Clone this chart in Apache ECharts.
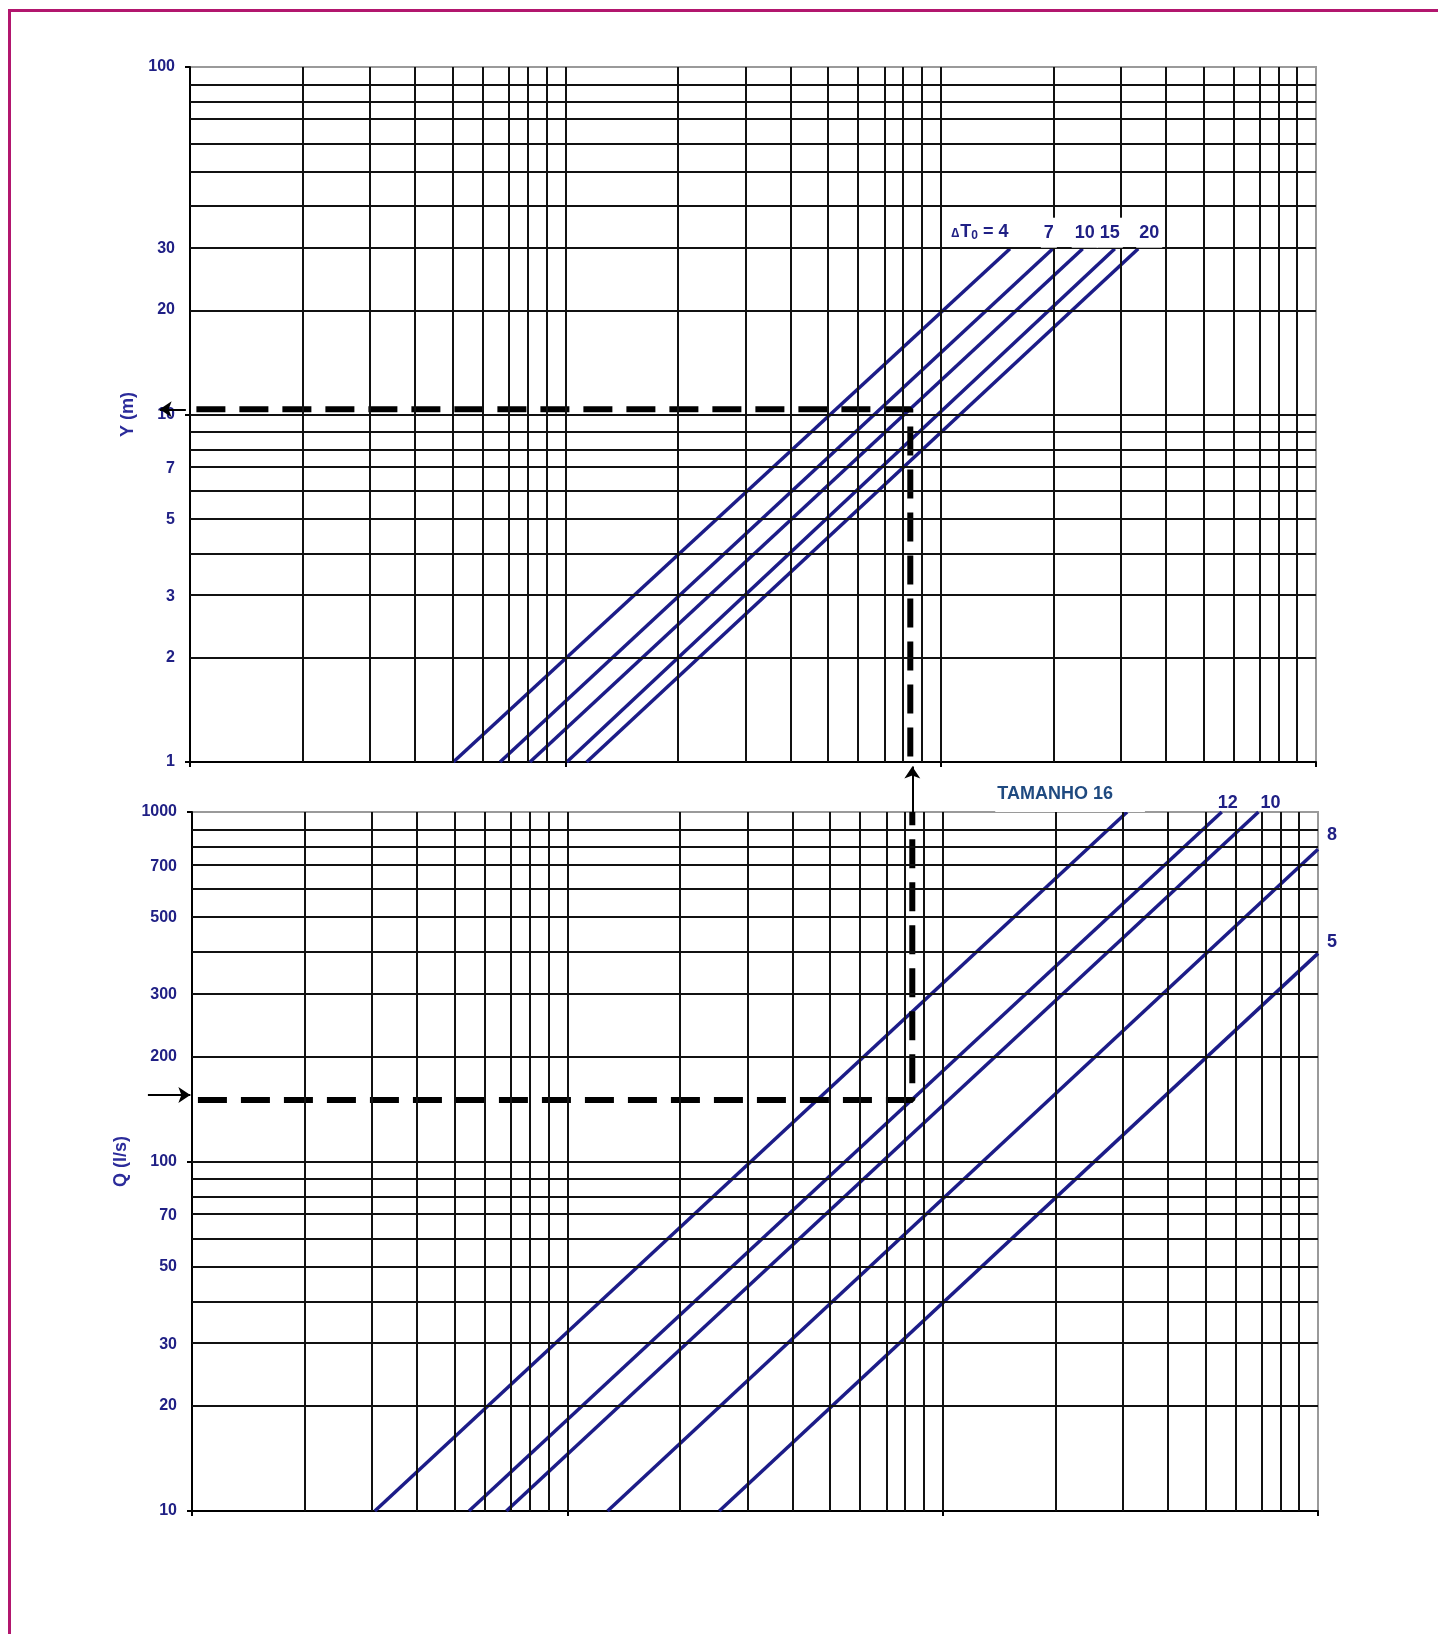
<!DOCTYPE html>
<html><head><meta charset="utf-8">
<script src="https://cdn.jsdelivr.net/npm/echarts@6/dist/echarts.min.js"></script>
<style>
html,body{margin:0;padding:0;background:#fff;overflow:hidden;}
#chart{position:absolute;left:0;top:0;width:1438px;height:1634px;}
#frame{position:absolute;left:8px;top:9px;width:1600px;height:1800px;border:3px solid #B2166E;pointer-events:none;}
</style></head>
<body>
<div id="chart"></div>
<div id="frame"></div>
<script>
// ---------------- data ----------------
const yTopTickLabels = [1, 2, 3, 5, 7, 10, 20, 30, 100];
const qTickLabels = [10, 20, 30, 50, 70, 100, 200, 300, 500, 700, 1000];
const dT0Names = ['4', '7', '10', '15', '20'];
const dT0StartX = [5.03, 6.70, 8.05, 10.09, 11.40];   // x where Y = 1
const dT0EndX = [153, 199, 239, 291, 336];            // x where Y = 30
const dT0StartY = 1;
const dT0EndY = 30;
const sizeNames = ['16', '12', '10', '8', '5'];
const sizeStart = [[3.07, 10], [5.47, 10], [6.88, 10], [12.8, 10], [25.4, 10]];
const sizeEnd = [[310, 1000], [554, 1000], [694, 1000], [1000, 782], [1000, 394]];
const exampleX = 83;
const exampleY = 10.35;
const exampleQ = 150;

// ---------------- helpers ----------------
const L = Math.log10;
const P = (x, y) => [L(x), L(y)];
const NAVY = '#1c1c88';
const LABEL_NAVY = '#202085';
const FONT = 'Arial, "Liberation Sans", sans-serif';

function minorGrid(fromDec, toDec) {
  const out = [];
  for (let d = fromDec; d < toDec; d++) {
    for (let k = 1; k <= 9; k++) {
      if (d === fromDec && k === 1) continue;
      out.push(k * Math.pow(10, d));
    }
  }
  return out;
}
const gridX = minorGrid(0, 3);      // 2..900
const gridYTop = minorGrid(0, 2);   // 2..90
const gridQ = minorGrid(1, 3);      // 20..900

function xAx(gi) {
  return {
    type: 'value', gridIndex: gi, min: 0, max: 3,
    axisLabel: { show: false },
    axisLine: { show: true, onZero: false, lineStyle: { color: '#000', width: 2 } },
    axisTick: { show: true, customValues: [0, 1, 2, 3], length: 5, lineStyle: { color: '#000', width: 2 } },
    splitLine: { show: false }
  };
}
function yAx(gi, lo, hi, labels, name, gap) {
  const decades = [];
  for (let d = L(lo); d <= L(hi) + 1e-9; d++) decades.push(d);
  return {
    type: 'value', gridIndex: gi, min: L(lo), max: L(hi),
    name: name, nameLocation: 'middle', nameGap: gap,
    nameTextStyle: { color: '#2b2b9a', fontSize: 18, fontWeight: 'bold', fontFamily: FONT },
    axisLine: { show: true, onZero: false, lineStyle: { color: '#000', width: 2 } },
    axisTick: { show: true, customValues: decades, length: 5, lineStyle: { color: '#000', width: 2 } },
    axisLabel: {
      customValues: labels.map(L),
      formatter: v => String(Math.round(Math.pow(10, v))),
      margin: 15, color: LABEL_NAVY, fontSize: 16, fontWeight: 'bold', fontFamily: FONT
    },
    splitLine: { show: false }
  };
}
function gridSeries(gi, xs, ys) {
  return {
    type: 'line', xAxisIndex: gi, yAxisIndex: gi, data: [], silent: true, z: 1,
    markLine: {
      silent: true, symbol: ['none', 'none'], label: { show: false }, animation: false,
      lineStyle: { color: '#111', width: 2, type: 'solid' },
      emphasis: { disabled: true },
      data: [...xs.map(v => ({ xAxis: L(v) })), ...ys.map(v => ({ yAxis: L(v) }))]
    }
  };
}

const series = [];
series.push(gridSeries(0, gridX, gridYTop));
series.push(gridSeries(1, gridX, gridQ));

dT0Names.forEach((n, i) => {
  series.push({
    type: 'line', name: 'dT0 ' + n, xAxisIndex: 0, yAxisIndex: 0, silent: true, z: 3,
    symbol: 'none', lineStyle: { color: NAVY, width: 3.5 },
    data: [P(dT0StartX[i], dT0StartY), P(dT0EndX[i], dT0EndY)]
  });
});
sizeNames.forEach((n, i) => {
  series.push({
    type: 'line', name: 'size ' + n, xAxisIndex: 1, yAxisIndex: 1, silent: true, z: 3,
    symbol: 'none', lineStyle: { color: NAVY, width: 3.5 },
    data: [P(sizeStart[i][0], sizeStart[i][1]), P(sizeEnd[i][0], sizeEnd[i][1])]
  });
});

// dashed example path
const dashStyle = { color: '#000', width: 6, type: [29, 14], cap: 'butt' };
series.push({
  type: 'line', xAxisIndex: 0, yAxisIndex: 0, silent: true, z: 4, symbol: 'none',
  lineStyle: dashStyle,
  data: [P(1.04, exampleY), P(exampleX, exampleY), P(exampleX, 1)]
});
series.push({
  type: 'line', xAxisIndex: 1, yAxisIndex: 1, silent: true, z: 4, symbol: 'none',
  lineStyle: dashStyle,
  data: [P(1.037, exampleQ), P(exampleX, exampleQ), P(exampleX, 1000)]
});

// arrows
const arrowBase = {
  type: 'lines', coordinateSystem: 'cartesian2d', silent: true, z: 5, clip: false,
  symbol: ['none', 'arrow'], symbolSize: 12,
  lineStyle: { color: '#000', width: 2, opacity: 1, curveness: 0 },
  effect: { show: false }
};
series.push(Object.assign({}, arrowBase, {
  xAxisIndex: 0, yAxisIndex: 0,
  data: [{ coords: [P(0.975, exampleY), P(0.83, exampleY)] }]
}));
series.push(Object.assign({}, arrowBase, {
  xAxisIndex: 1, yAxisIndex: 1,
  data: [
    { coords: [P(0.763, 155), P(0.99, 155)] },
    { coords: [P(exampleX, 1000), P(exampleX, 1350)] }
  ]
}));

// text labels anchored at line ends
const lblBase = { color: LABEL_NAVY, fontSize: 18, fontWeight: 'bold', fontFamily: FONT, opacity: 1 };
const whiteBox = { backgroundColor: '#fff', padding: [2, 3, 10, 3] };
const topLabelOffsets = [[-30, -17], [-4, -16], [2, -16], [-5, -16], [11, -16]];
const hiddenDot = { color: 'rgba(0,0,0,0)', opacity: 1 };
series.push({
  type: 'scatter', xAxisIndex: 0, yAxisIndex: 0, silent: true, z: 6, clip: false,
  symbolSize: 1, itemStyle: hiddenDot,
  data: dT0Names.map((n, i) => ({
    value: P(dT0EndX[i], dT0EndY),
    label: i === 0
      ? Object.assign({}, lblBase, {
          show: true, position: 'inside', offset: topLabelOffsets[i],
          formatter: '{d|\u2206}{t|T}{s|0}{t| = ' + n + '}',
          rich: {
            d: { fontSize: 13, fontWeight: 'bold', color: LABEL_NAVY, fontFamily: FONT, padding: [4, 1, 0, 0] },
            t: { fontSize: 18, fontWeight: 'bold', color: LABEL_NAVY, fontFamily: FONT },
            s: { fontSize: 12, fontWeight: 'bold', color: LABEL_NAVY, fontFamily: FONT, padding: [8, 0, 0, 0] }
          }
        })
      : Object.assign({}, lblBase, whiteBox, {
          show: true, position: 'inside', offset: topLabelOffsets[i], formatter: n
        })
  }))
});
const bottomLabelOffsets = [[-57, -18], [6, -9], [12, -9], [14, -14], [14, -11]];
series.push({
  type: 'scatter', xAxisIndex: 1, yAxisIndex: 1, silent: true, z: 6, clip: false,
  symbolSize: 1, itemStyle: hiddenDot,
  data: sizeNames.map((n, i) => ({
    value: P(sizeEnd[i][0], sizeEnd[i][1]),
    label: i === 0
      ? Object.assign({}, lblBase, {
          show: true, position: 'inside', offset: bottomLabelOffsets[i],
          formatter: 'TAMANHO ' + n, color: '#1F4A80',
          backgroundColor: '#fff', padding: [8, 32, 10, 2]
        })
      : Object.assign({}, lblBase, {
          show: true, position: 'inside', offset: bottomLabelOffsets[i], formatter: n
        })
  }))
});

const chart = echarts.init(document.getElementById('chart'), null, { renderer: 'canvas' });
chart.setOption({
  animation: false,
  backgroundColor: '#fff',
  grid: [
    { left: 190, top: 67, width: 1126, height: 695, show: true, borderColor: '#9a9a9a', borderWidth: 2, backgroundColor: 'transparent' },
    { left: 192, top: 812, width: 1126, height: 699, show: true, borderColor: '#9a9a9a', borderWidth: 2, backgroundColor: 'transparent' }
  ],
  xAxis: [xAx(0), xAx(1)],
  yAxis: [
    yAx(0, 1, 100, yTopTickLabels, 'Y (m)', 51),
    yAx(1, 10, 1000, qTickLabels, 'Q (l/s)', 60)
  ],
  series: series
});
</script>
</body></html>
